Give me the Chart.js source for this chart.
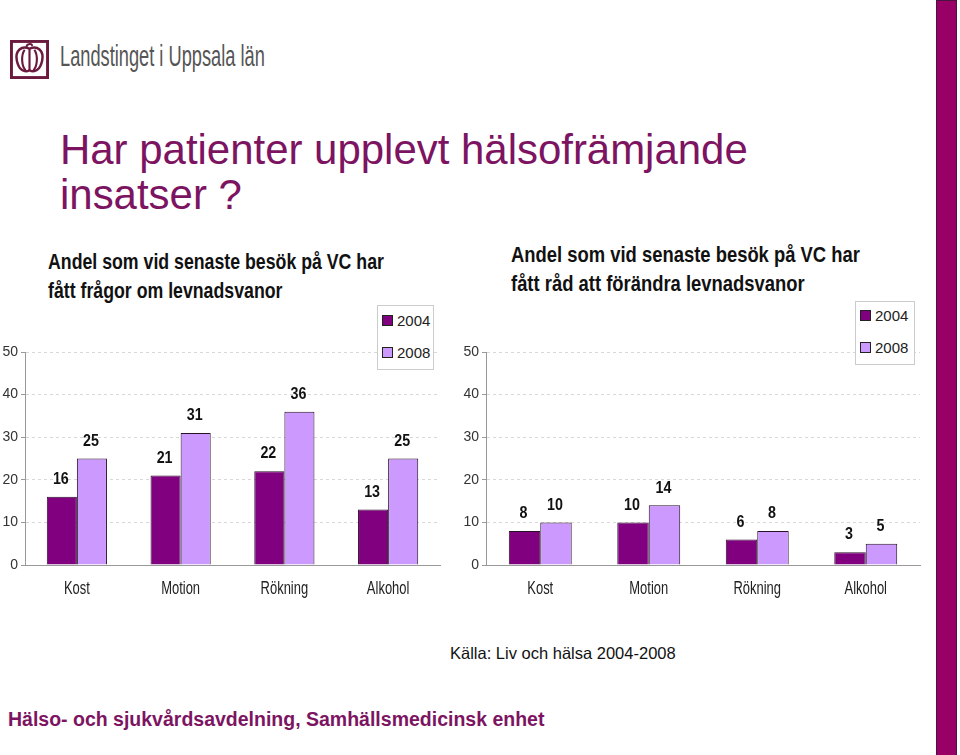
<!DOCTYPE html>
<html><head><meta charset="utf-8">
<script src="https://cdn.jsdelivr.net/npm/chart.js@4"></script>
<style>
html,body{margin:0;padding:0;background:#fff;}
body{width:960px;height:755px;position:relative;overflow:hidden;font-family:"Liberation Sans",Arial,sans-serif;}
.abs{position:absolute;}
.fit{white-space:nowrap;transform-origin:0 0;}
#stripe{left:936px;top:0;width:19px;height:754px;background:#990066;border:1px solid #4b1340;}
#logoTxt{left:60px;top:40px;font-size:29px;color:#555;}
#title{left:60px;top:127px;font-size:42px;line-height:45px;color:#7c1462;}
.ctitle{font-weight:bold;font-size:22px;line-height:29px;color:#111;}
.legend{border:1px solid #ccc;background:#fff;font-size:15px;color:#222;}
.legend div{position:absolute;left:4px;height:16px;line-height:16px;white-space:nowrap;}
.legend span{display:inline-block;width:9px;height:9px;border:1px solid #222;margin-right:4px;vertical-align:0px;}
#src{left:450px;top:644px;font-size:16.5px;color:#111;}
#foot{left:8px;top:708px;font-size:19.5px;font-weight:bold;color:#7c1462;}
</style></head>
<body>
<div id="stripe" class="abs"></div>
<svg class="abs" style="left:10px;top:40px" width="39" height="39" viewBox="0 0 40 40">
 <rect x="1.5" y="1.5" width="37" height="37" fill="none" stroke="#6b1a3e" stroke-width="3"/>
 <path d="M20 9 C12 5 5 11 7 21 C9 31 15 34 20 31 C25 34 31 31 33 21 C35 11 28 5 20 9 Z" fill="none" stroke="#6b1a3e" stroke-width="2.5"/>
 <path d="M15 10 C11 16 12 27 16 31 M25 10 C29 16 28 27 24 31 M20 9 L20 31" fill="none" stroke="#6b1a3e" stroke-width="2.2"/>
 <path d="M17 8 C16 4 22 3 23 6" fill="none" stroke="#6b1a3e" stroke-width="2"/>
</svg>
<div id="logoTxt" class="abs fit" data-w="205">Landstinget i Uppsala län</div>
<div id="title" class="abs fit" data-w="688">Har patienter upplevt hälsofrämjande<br>insatser ?</div>

<div class="abs ctitle fit" style="left:48px;top:247px;" data-w="336" data-group="t1">Andel som vid senaste besök på VC har</div>
<div class="abs ctitle fit" style="left:48px;top:276px;" data-group="t1">fått frågor om levnadsvanor</div>
<div class="abs ctitle fit" style="left:511px;top:240px;" data-w="349" data-group="t2">Andel som vid senaste besök på VC har</div>
<div class="abs ctitle fit" style="left:511px;top:269px;" data-group="t2">fått råd att förändra levnadsvanor</div>

<div class="abs" style="left:0;top:330px;width:450px;height:280px;"><canvas id="c1" width="450" height="280"></canvas></div>
<div class="abs" style="left:460px;top:330px;width:470px;height:280px;"><canvas id="c2" width="470" height="280"></canvas></div>

<div class="abs legend" style="left:377px;top:305px;width:55px;height:63px;">
 <div style="top:7px"><span style="background:#800080"></span>2004</div>
 <div style="top:39px"><span style="background:#cc99ff"></span>2008</div>
</div>
<div class="abs legend" style="left:855px;top:301px;width:58px;height:62px;">
 <div style="top:6px"><span style="background:#800080"></span>2004</div>
 <div style="top:38px"><span style="background:#cc99ff"></span>2008</div>
</div>

<div id="src" class="abs">Källa: Liv och hälsa 2004-2008</div>
<div id="foot" class="abs">Hälso- och sjukvårdsavdelning, Samhällsmedicinsk enhet</div>

<script>
const categories = ['Kost', 'Motion', 'Rökning', 'Alkohol'];
const seriesNames = ['2004', '2008'];
const fragor2004 = [16, 21, 22, 13];
const fragor2008 = [25, 31, 36, 25];
const rad2004 = [8, 10, 6, 3];
const rad2008 = [10, 14, 8, 5];
const yTicks = [0, 10, 20, 30, 40, 50];

// condense HTML texts to the narrow look of the original
const groupScale = {};
document.querySelectorAll('.fit[data-w]').forEach(el => {
  const s = (+el.dataset.w) / el.scrollWidth;
  if (el.dataset.group) groupScale[el.dataset.group] = s;
  el.style.transform = 'scaleX(' + s + ')';
});
document.querySelectorAll('.fit[data-group]:not([data-w])').forEach(el => {
  el.style.transform = 'scaleX(' + groupScale[el.dataset.group] + ')';
});

const NARROW_CAT = 0.72, NARROW_VAL = 0.84;

const labelPlugin = {
  id: 'narrowLabels',
  afterDatasetsDraw(chart) {
    const ctx = chart.ctx;
    ctx.save();
    ctx.fillStyle = '#111';
    ctx.textAlign = 'center';
    ctx.textBaseline = 'bottom';
    ctx.font = 'bold 17px "Liberation Sans", Arial, sans-serif';
    chart.data.datasets.forEach((ds, i) => {
      chart.getDatasetMeta(i).data.forEach((bar, j) => {
        ctx.save();
        ctx.translate(bar.x - 1, bar.y - 9);
        ctx.scale(NARROW_VAL, 1);
        ctx.fillText(String(ds.data[j]), 0, 0);
        ctx.restore();
      });
    });
    // category labels along the x scale
    const xs = chart.scales.x;
    ctx.fillStyle = '#222';
    ctx.textBaseline = 'middle';
    ctx.font = '18px "Liberation Sans", Arial, sans-serif';
    chart.data.labels.forEach((lab, j) => {
      ctx.save();
      ctx.translate(xs.getPixelForValue(j), xs.top + 24);
      ctx.scale(NARROW_CAT, 1);
      ctx.fillText(lab, 0, 0);
      ctx.restore();
    });
    ctx.restore();
  }
};

function makeChart(id, d04, d08, yWidth) {
  return new Chart(document.getElementById(id), {
    type: 'bar',
    data: {
      labels: categories,
      datasets: [
        {label: seriesNames[0], data: d04, backgroundColor: '#800080', borderColor: '#2a1028', borderWidth: 1},
        {label: seriesNames[1], data: d08, backgroundColor: '#cc99ff', borderColor: '#2a1028', borderWidth: 1}
      ]
    },
    options: {
      responsive: false,
      animation: false,
      events: [],
      layout: {padding: {top: 22, right: 10, left: 0, bottom: 0}},
      datasets: {bar: {categoryPercentage: 0.58, barPercentage: 1}},
      plugins: {legend: {display: false}, tooltip: {enabled: false}},
      scales: {
        x: {
          grid: {display: false, drawTicks: false},
          border: {display: true, color: '#999', width: 1},
          ticks: {display: false},
          afterFit(s) { s.height = 45; }
        },
        y: {
          min: 0, max: 50,
          afterBuildTicks(s) { s.ticks = yTicks.map(v => ({value: v})); },
          grid: {color: c => c.tick && c.tick.value === 0 ? 'rgba(0,0,0,0)' : '#d8d8d8', tickLength: 4, tickColor: '#999', tickBorderDash: []},
          border: {display: true, color: '#999', width: 1, dash: [3, 3]},
          ticks: {padding: 3, color: '#333', font: {family: '"Liberation Sans", Arial, sans-serif', size: 14}},
          afterFit(s) { s.width = yWidth; }
        }
      }
    },
    plugins: [labelPlugin]
  });
}

makeChart('c1', fragor2004, fragor2008, 25);
makeChart('c2', rad2004, rad2008, 26);
</script>
</body></html>
